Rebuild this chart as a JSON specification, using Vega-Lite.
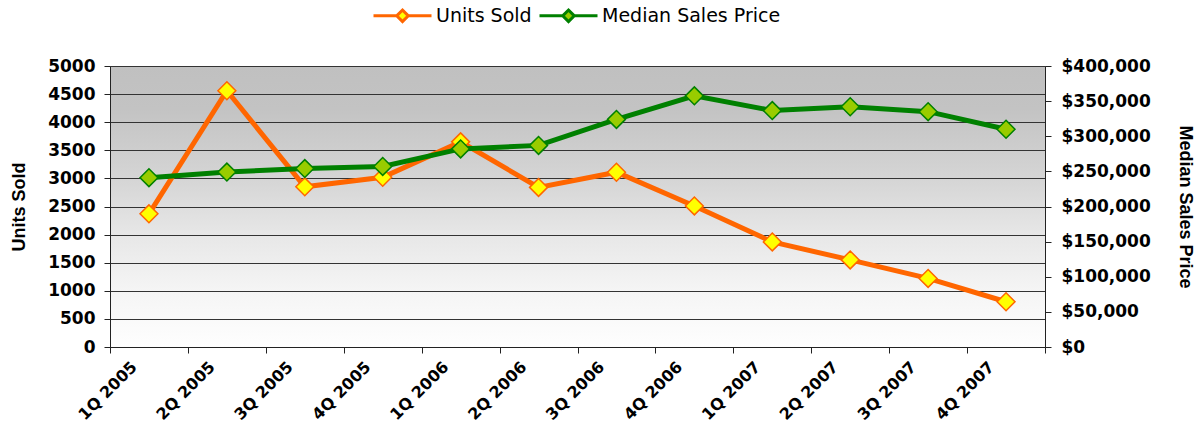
{
  "$schema": "https://vega.github.io/schema/vega-lite/v6.json",
  "autosize": "none",
  "padding": {"left": 110, "top": 66, "right": 151, "bottom": 78},
  "width": 935,
  "height": 281,
  "background": "white",
  "config": {
    "view": {"stroke": "#8a8a8a", "strokeWidth": 1},
    "axis": {"domainColor": "#222", "tickColor": "#222", "labelColor": "#000", "titleColor": "#000"}
  },
  "view": {
    "stroke": "#8a8a8a",
    "fill": {
      "gradient": "linear", "x1": 0, "y1": 0, "x2": 0, "y2": 1,
      "stops": [
        {"offset": 0, "color": "#c0c0c0"},
        {"offset": 0.15, "color": "#c3c3c3"},
        {"offset": 0.4, "color": "#d5d5d5"},
        {"offset": 0.6, "color": "#e7e7e7"},
        {"offset": 0.8, "color": "#f5f5f5"},
        {"offset": 1, "color": "#fefefe"}
      ]
    }
  },
  "data": {
    "values": [
      {"quarter": "1Q 2005", "units": 2370, "price": 241000},
      {"quarter": "2Q 2005", "units": 4560, "price": 249000},
      {"quarter": "3Q 2005", "units": 2850, "price": 254000},
      {"quarter": "4Q 2005", "units": 3020, "price": 257000},
      {"quarter": "1Q 2006", "units": 3650, "price": 282000},
      {"quarter": "2Q 2006", "units": 2840, "price": 287000},
      {"quarter": "3Q 2006", "units": 3110, "price": 324000},
      {"quarter": "4Q 2006", "units": 2510, "price": 357500},
      {"quarter": "1Q 2007", "units": 1870, "price": 336500},
      {"quarter": "2Q 2007", "units": 1550, "price": 342000},
      {"quarter": "3Q 2007", "units": 1220, "price": 335000},
      {"quarter": "4Q 2007", "units": 805, "price": 310000}
    ]
  },
  "encoding": {
    "x": {
      "field": "quarter", "type": "ordinal", "sort": null, "bandPosition": 0.5,
      "scale": {"type": "band", "paddingInner": 0, "paddingOuter": 0},
      "axis": {
        "title": null, "tickBand": "extent", "tickSize": 6, "labelAngle": -45,
        "labelAlign": "right", "labelBaseline": "middle", "labelPadding": 11, "labelOffset": -15,
        "labelFont": "DejaVu Sans", "labelFontWeight": "bold", "labelFontSize": 16,
        "grid": false, "labelOverlap": false
      }
    }
  },
  "layer": [
    {
      "encoding": {
        "y": {
          "field": "units", "type": "quantitative",
          "scale": {"domain": [0, 5000], "nice": false, "zero": true},
          "axis": {
            "title": "Units Sold", "values": [0, 500, 1000, 1500, 2000, 2500, 3000, 3500, 4000, 4500, 5000],
            "grid": true, "gridColor": "#333", "gridWidth": 1, "gridOpacity": 1,
            "tickSize": 6, "labelPadding": 9, "format": "d",
            "labelFont": "DejaVu Sans", "labelFontWeight": "bold", "labelFontSize": 17,
            "titleFont": "Liberation Sans", "titleFontWeight": "bold", "titleFontSize": 18, "titlePadding": 19
          }
        }
      },
      "layer": [
        {
          "mark": {"type": "line", "strokeWidth": 5},
          "encoding": {
            "color": {
              "datum": "Units Sold",
              "scale": {"domain": ["Units Sold", "Median Sales Price"], "range": ["#ff6600", "#008000"]},
              "legend": {
                "title": null, "orient": "none", "direction": "horizontal", "legendX": 262, "legendY": -81,
                "symbolType": "M-1,0L-0.2,0M0.2,0L1,0M0,-0.2L0.2,0L0,0.2L-0.2,0Z",
                "symbolSize": 3364, "symbolStrokeWidth": 3,
                "labelFont": "DejaVu Sans", "labelFontSize": 19, "labelColor": "#000", "labelOffset": 3,
                "columnPadding": 1, "labelLimit": 400,
                "encode": {"symbols": {"update": {"fill": {"signal": "datum.value === 'Units Sold' ? '#ffff00' : '#99cc00'"}, "fillOpacity": {"value": 1}}}}
              }
            }
          }
        },
        {
          "mark": {"type": "point", "shape": "diamond", "size": 320, "filled": true, "fill": "#ffff00", "stroke": "#ff6600", "strokeWidth": 1.5, "opacity": 1}
        }
      ]
    },
    {
      "encoding": {
        "y": {
          "field": "price", "type": "quantitative",
          "scale": {"domain": [0, 400000], "nice": false, "zero": true},
          "axis": {
            "orient": "right", "title": "Median Sales Price",
            "values": [0, 50000, 100000, 150000, 200000, 250000, 300000, 350000, 400000],
            "grid": false, "tickSize": 6, "labelPadding": 10, "format": "$,.0f",
            "labelFont": "DejaVu Sans", "labelFontWeight": "bold", "labelFontSize": 17,
            "titleFont": "Liberation Sans", "titleFontWeight": "bold", "titleFontSize": 18, "titlePadding": 25
          }
        }
      },
      "layer": [
        {
          "mark": {"type": "line", "strokeWidth": 5},
          "encoding": {"color": {"datum": "Median Sales Price"}}
        },
        {
          "mark": {"type": "point", "shape": "diamond", "size": 320, "filled": true, "fill": "#99cc00", "stroke": "#008000", "strokeWidth": 1.5, "opacity": 1}
        }
      ]
    }
  ],
  "resolve": {"scale": {"y": "independent"}}
}
